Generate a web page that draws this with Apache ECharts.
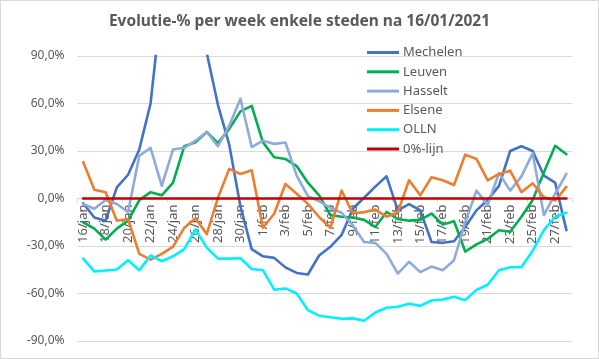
<!DOCTYPE html>
<html>
<head>
<meta charset="utf-8">
<script src="https://cdn.jsdelivr.net/npm/echarts@6/dist/echarts.min.js"></script>
<style>
  html, body { margin: 0; padding: 0; background: #fff; }
  #chart { width: 599px; height: 359px; box-sizing: border-box; border: 1px solid #d9d9d9; }
</style>
</head>
<body>
<div id="chart"></div>
<script>
const titleText = 'Evolutie-% per week enkele steden na 16/01/2021';

const categories = [
  '16/jan','17/jan','18/jan','19/jan','20/jan','21/jan','22/jan','23/jan','24/jan','25/jan',
  '26/jan','27/jan','28/jan','29/jan','30/jan','31/jan','1/feb','2/feb','3/feb','4/feb',
  '5/feb','6/feb','7/feb','8/feb','9/feb','10/feb','11/feb','12/feb','13/feb','14/feb',
  '15/feb','16/feb','17/feb','18/feb','19/feb','20/feb','21/feb','22/feb','23/feb','24/feb',
  '25/feb','26/feb','27/feb','28/feb'
];

const mechelen = [
  -3, -12, -14, 7, 15, 31, 60, 125, 150, 145,
  120, 92, 59, 34, -5, -32, -36.5, -37.5, -43.5, -47,
  -48, -36, -30.5, -23, -6.5, 0.5, 7.5, 14, -7.5, -3.5,
  -7.5, -27.5, -28, -27, -18, -7.5, -1, 8, 30, 33,
  30, 14.5, 10, -20
];

const leuven = [
  -15, -19, -26, -19, -14, -1, 4, 2, 10, 33,
  35.5, 42, 35, 44, 55, 58.5, 35.5, 26, 25, 20.5,
  10, 2, -10.5, -11.5, -12, -13.5, -18, -8.5, -13, -14,
  -13.5, -9.5, -16.5, -14.3, -33.5, -29, -25.5, -20, -21, -11.5,
  -1, 16.5, 33.3, 28
];

const hasselt = [
  -3.5, -6.5, -1, -3.5, -8.5, 27, 32, 8, 31, 32,
  36.5, 42, 33, 46, 63, 32.5, 36.5, 34.5, 35.4, 14.5,
  1.5, -1.7, -6, -9, -17, -27.5, -28, -35, -47.5, -40,
  -46.5, -43, -45.3, -39, -15, 5, -4, 16, 5, 14,
  28.5, -10.5, 3, 15.5
];

const elsene = [
  23, 5.5, 4, -14, -13, -35, -38.6, -35, -30.4, -18.5,
  -12.5, -22.5, 0.5, 18.7, 15.5, 17.8, -18.5, -9.6, 9.2, 3,
  -3.4, -11.7, -18.5, 5, -9.5, -8.6, -7, -11.5, -8.6, 11.5,
  2, 13.4, 11.5, 8.5, 27.7, 25, 11.5, 15.5, 17.6, 4,
  9.6, 0.8, -1.3, 7.3
];

const olln = [
  -38, -46, -45.5, -44.8, -39, -45.3, -36, -39.6, -36.5, -32,
  -19.5, -31, -38, -38, -37.7, -44.5, -45.3, -57.6, -56.8, -60,
  -70.5, -74, -75, -76, -75.7, -77.2, -72, -69, -68.4, -66.5,
  -67.8, -64.4, -63.8, -62, -64.2, -57.7, -54.5, -45.3, -43.4, -43.4,
  -33, -20, -11.5, -9
];

const nulLijn = [
  0, 0, 0, 0, 0, 0, 0, 0, 0, 0,
  0, 0, 0, 0, 0, 0, 0, 0, 0, 0,
  0, 0, 0, 0, 0, 0, 0, 0, 0, 0,
  0, 0, 0, 0, 0, 0, 0, 0, 0, 0,
  0, 0, 0, 0
];

const yTicks = [-90, -60, -30, 0, 30, 60, 90];

const seriesNames = ['Mechelen', 'Leuven', 'Hasselt', 'Elsene', 'OLLN', '0%-lijn'];
const seriesData = [mechelen, leuven, hasselt, elsene, olln, nulLijn];
const seriesColors = ['#4472C4', '#00B050', '#8FAADC', '#ED7D31', '#00F0FF', '#C00000'];

const FONT = '"Noto Sans", "Open Sans", sans-serif';
const TXT = '#595959';

const GRID_TOP = 55, GRID_H = 285;
const yMin = yTicks[0], yMax = yTicks[yTicks.length - 1];
// move the category axis up to the 0-line (pixel offset derived from the axis range)
const zeroOffset = -GRID_H * (0 - yMin) / (yMax - yMin);

const chart = echarts.init(document.getElementById('chart'), null, { renderer: 'canvas' });

chart.setOption({
  animation: false,
  backgroundColor: '#ffffff',
  title: {
    text: titleText,
    left: 'center',
    top: 8,
    textStyle: { fontFamily: FONT, fontSize: 15.5, fontWeight: 'bold', color: TXT }
  },
  legend: {
    orient: 'vertical',
    left: 366,
    top: 44.5,
    padding: 0,
    icon: 'rect',
    itemWidth: 32,
    itemHeight: 3,
    itemGap: 5.3,
    data: seriesNames,
    textStyle: { fontFamily: FONT, fontSize: 13, lineHeight: 14, color: TXT, padding: [0, 0, 0, -1] }
  },
  grid: { left: 76.5, top: GRID_TOP, width: 494.5, height: GRID_H, containLabel: false, outerBoundsMode: 'none' },
  xAxis: {
    type: 'category',
    data: categories,
    boundaryGap: true,
    position: 'bottom',
    offset: zeroOffset,
    axisLine: { onZero: false, lineStyle: { color: '#d9d9d9', width: 1 } },
    axisTick: { show: true, interval: 3, length: 4, lineStyle: { color: '#d9d9d9' } },
    axisLabel: {
      interval: 1,
      rotate: 90,
      margin: 6,
      fontFamily: FONT,
      fontSize: 13,
      color: TXT
    },
    splitLine: { show: false }
  },
  yAxis: {
    type: 'value',
    min: yMin,
    max: yMax,
    interval: 30,
    axisLine: { show: false },
    axisTick: { show: false },
    axisLabel: {
      margin: 13,
      fontFamily: FONT,
      fontSize: 12,
      color: TXT,
      formatter: v => v.toFixed(1).replace('.', ',') + '%'
    },
    splitLine: { lineStyle: { color: '#d9d9d9', width: 1 } }
  },
  series: seriesNames.map((name, i) => ({
    name: name,
    type: 'line',
    data: seriesData[i],
    symbol: 'none',
    showSymbol: false,
    clip: true,
    color: seriesColors[i],
    lineStyle: { color: seriesColors[i], width: 2.6, cap: 'round', join: 'round' },
    z: 2 + i
  }))
});
</script>
</body>
</html>
